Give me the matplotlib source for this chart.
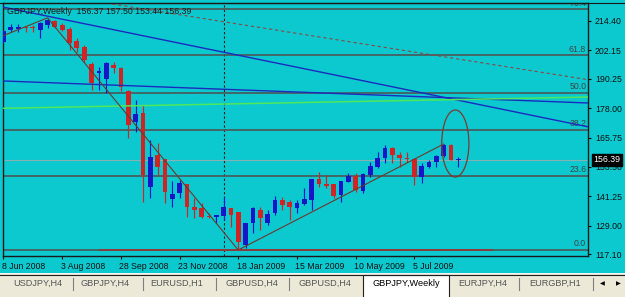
import matplotlib
matplotlib.use('Agg')
import matplotlib.pyplot as plt
from matplotlib.patches import Ellipse, Rectangle
from matplotlib.transforms import ScaledTranslation
import numpy as np

plt.rcParams['font.family'] = ['Liberation Sans', 'DejaVu Sans']

# ---- data: GBPJPY weekly candles, first bar = 8 Jun 2008 ----
opens = [205.6, 210.6, 210.9, 211.7, 211.9, 210.6, 212.7, 214.4, 212.7, 211.1,
         206.0, 203.5, 196.5, 192.7, 190.2, 196.0, 194.8, 185.2, 172.2, 176.0,
         145.1, 158.4, 156.8, 140.1, 142.6, 146.3, 136.8, 136.3, 133.0, 132.6,
         133.0, 136.3, 134.6, 120.9, 130.1, 135.5, 130.1, 134.2, 139.7, 138.8,
         136.3, 138.0, 139.7, 148.4, 146.3, 146.3, 141.8, 147.2, 149.7, 143.4,
         150.1, 153.4, 157.2, 161.4, 158.4, 157.2, 156.8, 149.3, 153.4, 155.5,
         158.0, 162.6, 156.37]
highs = [210.6, 213.2, 213.2, 212.0, 212.7, 214.0, 215.7, 214.8, 213.6, 211.9,
         207.3, 204.4, 197.3, 195.2, 197.3, 197.3, 195.2, 185.6, 181.4, 179.3,
         164.7, 163.5, 156.8, 147.6, 148.0, 146.3, 140.5, 138.4, 134.2, 133.4,
         140.9, 136.3, 134.6, 130.1, 136.7, 136.7, 135.5, 141.3, 140.9, 139.7,
         139.7, 144.7, 148.4, 151.3, 150.1, 146.3, 147.6, 150.9, 150.9, 150.9,
         155.5, 159.7, 162.6, 161.8, 159.7, 159.7, 157.2, 155.1, 156.4, 158.4,
         163.0, 163.0, 157.50]
lows = [205.2, 209.8, 209.9, 209.8, 209.8, 207.3, 211.5, 211.5, 210.2, 202.3,
        201.5, 197.3, 185.6, 185.6, 184.3, 192.7, 185.2, 165.5, 168.1, 138.8,
        140.5, 150.1, 138.4, 136.7, 140.5, 132.6, 132.1, 132.1, 132.1, 130.1,
        131.3, 128.4, 118.8, 119.6, 125.9, 127.1, 129.2, 133.4, 135.5, 131.3,
        134.2, 137.6, 135.5, 145.1, 144.7, 140.5, 138.8, 147.2, 143.0, 142.6,
        149.3, 153.0, 155.1, 155.1, 153.4, 155.5, 145.9, 146.8, 153.0, 153.4,
        157.6, 156.4, 153.44]
closes = [210.2, 211.9, 211.9, 211.5, 211.3, 213.6, 214.8, 211.9, 210.6, 205.2,
          203.1, 198.1, 188.5, 193.5, 196.9, 194.8, 186.8, 171.0, 175.6, 150.1,
          157.6, 153.4, 143.0, 142.2, 146.8, 136.8, 135.5, 132.6, 132.6, 133.4,
          136.8, 133.4, 122.1, 130.1, 136.3, 132.1, 133.8, 139.7, 137.6, 136.7,
          138.4, 140.1, 148.4, 146.3, 145.5, 141.3, 147.6, 149.7, 143.8, 150.5,
          153.9, 157.2, 161.4, 158.4, 157.2, 156.8, 149.3, 153.9, 155.5, 158.0,
          162.6, 156.4, 156.39]

xtick_idx = [0, 8, 16, 24, 32, 40, 48, 56]
xtick_labels = ["8 Jun 2008", "3 Aug 2008", "28 Sep 2008", "23 Nov 2008",
                "18 Jan 2009", "15 Mar 2009", "10 May 2009", "5 Jul 2009"]
ytick_vals = [214.40, 202.15, 190.25, 178.00, 165.75, 153.50, 141.25, 129.00, 117.10]
ytick_labels = ["214.40", "202.15", "190.25", "178.00", "165.75",
                "153.50", "141.25", "129.00", "117.10"]

fib_low, fib_high = 118.8, 250.2
fib_levels = [0.0, 23.6, 38.2, 50.0, 61.8, 76.4]

# drawn objects (candle index, price)
steep_blue = [(6, 216.4), (62, 181.3)]
flat_blue = [(0, 189.35), (62, 182.2)]
green_line = [(0, 177.95), (62, 181.6)]
dashed_line = [(26.8, 215.65), (62, 198.5)]
zigzag_x = [0, 6, 32, 60]
zigzag_y = [208.3, 215.7, 118.8, 163.0]
low_line = [(13.2, 118.9), (66.6, 118.9)]
ellipse_c = (61.6, 163.25)
ellipse_w, ellipse_h = 3.7, 28.0
separator_idx = 30
bid = closes[-1]

BG = '#0BC9CF'
BLUE = '#1616C8'
RED = '#D02424'

W, H = 625, 297
fig = plt.figure(figsize=(W / 100, H / 100), dpi=100, facecolor=BG)
ax = fig.add_axes([3 / W, 1 - 256 / H, 585 / W, 253 / H])
ax.set_facecolor(BG)
ax.set_xlim(-0.068, 79.69)
ax.set_ylim(116.28, 221.9)

# fib levels
for lv in fib_levels:
    p = fib_low + (fib_high - fib_low) * lv / 100.0
    ax.axhline(p, color='#4C5656', lw=1.2, zorder=2)
    ax.annotate(f"{lv:.1f}", xy=(0.997, p), xycoords=('axes fraction', 'data'),
                xytext=(0, 1.2), textcoords='offset points', ha='right', va='bottom',
                fontsize=6.3, color='#3C4646', clip_on=True, annotation_clip=False)

# bid line
ax.axhline(bid, color='#86B2B2', lw=0.8, zorder=1.5)
# period separator
ax.axvline(separator_idx, color='#1a1a1a', lw=0.8, ls=(0, (2, 2)), zorder=1.6)

# candles
o, h, l, c = map(np.array, (opens, highs, lows, closes))
idx = np.arange(len(o))
cols = np.where(c >= o, BLUE, RED)
ax.vlines(idx, l, h, colors=cols, lw=0.85, zorder=4)
ax.bar(idx, np.maximum(np.abs(c - o), 0.3), bottom=np.minimum(o, c), width=0.64,
       color=cols, lw=0, zorder=5)

# objects
ax.axline(steep_blue[0], steep_blue[1], color='#1C2AC0', lw=1.0, zorder=6)
ax.axline(flat_blue[0], flat_blue[1], color='#1C2AC0', lw=1.0, zorder=6)
ax.axline(green_line[0], green_line[1], color='#4EE85A', lw=1.1, zorder=6)
ax.axline(dashed_line[0], dashed_line[1], color='#8A4A44', lw=0.8, ls=(0, (3, 2.5)), zorder=6)
ax.plot(zigzag_x, zigzag_y, color='#6A3A30', lw=0.8, zorder=6)
ax.plot([low_line[0][0], low_line[1][0]], [low_line[0][1], low_line[1][1]],
        color='#9A3434', lw=1.2, zorder=6)
ax.add_patch(Ellipse(ellipse_c, ellipse_w, ellipse_h, fc='none', ec='#7A3A36', lw=0.9, zorder=7))

# axes styling
for s in ax.spines.values():
    s.set_color('#1a1a1a')
    s.set_linewidth(1.0)
ax.yaxis.tick_right()
ax.set_yticks(ytick_vals)
ax.set_yticklabels(ytick_labels)
ax.set_xticks(xtick_idx)
ax.set_xticklabels(xtick_labels, ha='left')
ax.tick_params(axis='y', length=2.5, width=0.8, pad=2.5, labelsize=6.3, colors='#111111')
ax.tick_params(axis='x', length=2.5, width=0.8, pad=1.5, labelsize=6.3, colors='#111111')
for lab in ax.get_xticklabels():
    lab.set_transform(lab.get_transform() + ScaledTranslation(-1.5 / 100, 0, fig.dpi_scale_trans))

# bid price label
ax.annotate(f"{bid:.2f}", xy=(1, bid), xycoords=('axes fraction', 'data'),
            xytext=(4, 0), textcoords='offset points', ha='left', va='center',
            color='white', fontsize=6.3,
            bbox=dict(boxstyle='square,pad=0.2', fc='black', ec='black'),
            annotation_clip=False, zorder=20)

# title
fig.text(7 / W, 1 - 12 / H,
         f"GBPJPY,Weekly  {opens[-1]:.2f} {highs[-1]:.2f} {lows[-1]:.2f} {closes[-1]:.2f}",
         fontsize=6.3, va='center', ha='left', color='#1a1a1a')

# window chrome / tab strip (pixel coordinates)
ov = fig.add_axes([0, 0, 1, 1], zorder=10)
ov.set_xlim(0, W)
ov.set_ylim(H, 0)
ov.axis('off')
ov.patch.set_alpha(0)
ov.plot([0, W], [2.5, 2.5], color='#1a1a1a', lw=0.8)
ov.add_patch(Rectangle((0, 273), W, 24, fc='#ECE9D8', ec='none'))
ov.plot([0, W], [272.5, 272.5], color='#F6F6F6', lw=0.7)
ov.plot([0, W], [274.5, 274.5], color='#202020', lw=0.8)
ov.add_patch(Rectangle((363, 274.5), 86, 25, fc='white', ec='#202020', lw=0.8))
tabs = [("USDJPY,H4", 37.5), ("GBPJPY,H4", 105.5), ("EURUSD,H1", 177),
        ("GBPUSD,H4", 251.5), ("GBPUSD,H4", 324.5), ("GBPJPY,Weekly", 406),
        ("EURJPY,H4", 483), ("EURGBP,H1", 555)]
for name, cx in tabs:
    active = name == "GBPJPY,Weekly"
    ov.text(cx, 283.5, name, ha='center', va='center', fontsize=6.6,
            color='black' if active else '#555555')
for sx in [73, 143, 216, 289, 519, 593]:
    ov.plot([sx, sx], [278, 290], color='#808080', lw=0.8)
ov.text(602, 283.5, '◀', ha='center', va='center', fontsize=4.5, color='black',
        family='DejaVu Sans')
ov.text(618, 283.5, '▶', ha='center', va='center', fontsize=4.5, color='black',
        family='DejaVu Sans')

fig.savefig('out.png', dpi=100, facecolor=BG)
